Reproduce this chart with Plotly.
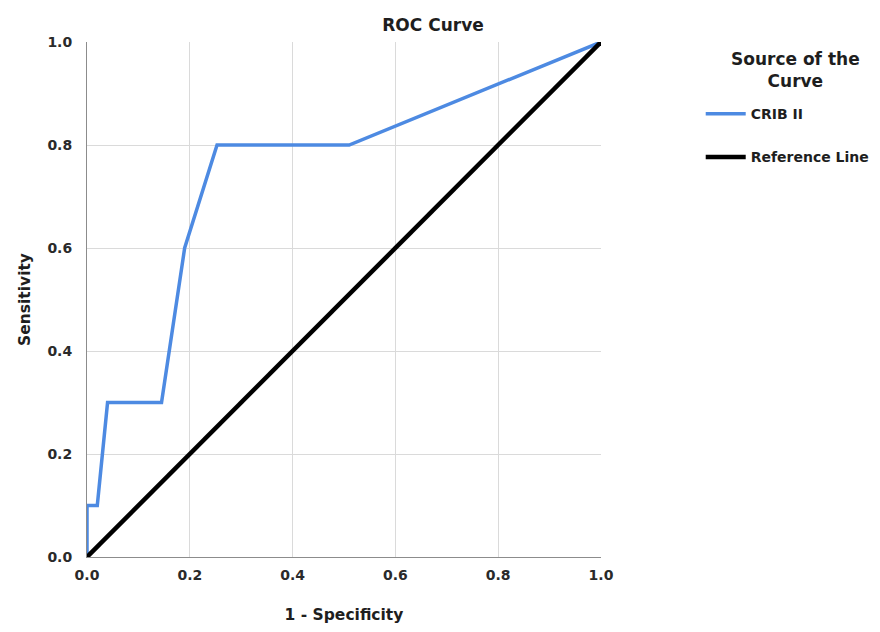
import plotly.graph_objects as go

fpr = [0.0, 0.0, 0.02, 0.04, 0.145, 0.19, 0.253, 0.51, 1.0]
tpr = [0.0, 0.1, 0.1, 0.3, 0.3, 0.6, 0.8, 0.8, 1.0]
ref_x = [0.0, 1.0]
ref_y = [0.0, 1.0]
ticks = [0.0, 0.2, 0.4, 0.6, 0.8, 1.0]
tick_text = ["0.0", "0.2", "0.4", "0.6", "0.8", "1.0"]

font = "DejaVu Sans"
txt = "#1e1e1e"

fig = go.Figure()
fig.add_trace(go.Scatter(x=fpr, y=tpr, mode="lines", name="<b>CRIB II</b>",
                         legendgroup="a",
                         line=dict(color="#4d8ae2", width=3.5)))
fig.add_trace(go.Scatter(x=ref_x, y=ref_y, mode="lines", name="<b>Reference Line</b>",
                         legendgroup="b",
                         line=dict(color="#000000", width=4.5)))

axis_common = dict(range=[0, 1], tickvals=ticks, ticktext=["<b>%s</b>" % t for t in tick_text],
                   showgrid=True, gridcolor="#dadada", gridwidth=1,
                   zeroline=False, showline=True, linecolor="#8c8c8c", linewidth=1,
                   ticks="", tickfont=dict(family=font, size=14, color="#2a2a2a"))

fig.update_xaxes(**axis_common, ticklabelstandoff=5,
                 title=dict(text="<b>1 - Specificity</b>", standoff=32,
                            font=dict(family=font, size=15.5, color=txt)))
fig.update_yaxes(**axis_common, ticklabelstandoff=11,
                 title=dict(text="<b>Sensitivity</b>", standoff=12,
                            font=dict(family=font, size=15.5, color=txt)))

fig.add_annotation(text="<b>Source of the<br>Curve</b>", xref="paper", yref="paper",
                   x=1.379, y=0.946, xanchor="center", yanchor="middle",
                   showarrow=False, align="center",
                   font=dict(family=font, size=17, color=txt))

fig.update_layout(
    width=864, height=616,
    margin=dict(l=79, r=271, t=34, b=67, autoexpand=False),
    paper_bgcolor="white", plot_bgcolor="white",
    title=dict(text="<b>ROC Curve</b>", x=425 / 864, xref="container", xanchor="center",
               y=0.9724, yref="container", yanchor="middle",
               font=dict(family=font, size=17, color=txt)),
    legend=dict(
        x=1.194, xanchor="left", y=0.891, yanchor="top",
        font=dict(family=font, size=14, color=txt),
        tracegroupgap=22, bgcolor="rgba(0,0,0,0)",
        itemwidth=40,
    ),
    showlegend=True,
)

fig.write_html("out.html")
